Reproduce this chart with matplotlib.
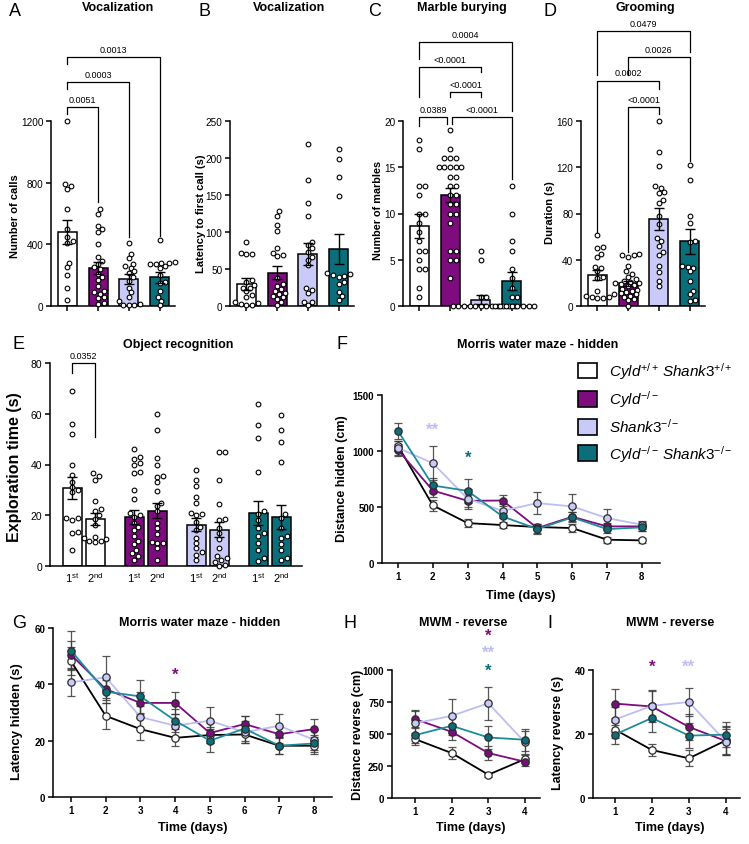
import numpy as np
import matplotlib
matplotlib.use('Agg')
import matplotlib.pyplot as plt
from matplotlib.patches import Patch

W, H = 749, 845
plt.rcParams['font.family'] = ['Liberation Sans', 'DejaVu Sans']
plt.rcParams['mathtext.fontset'] = 'custom'
plt.rcParams['mathtext.rm'] = 'Liberation Sans'
plt.rcParams['mathtext.it'] = 'Liberation Sans:italic'
plt.rcParams['mathtext.bf'] = 'Liberation Sans:bold'

# ---- data: bar panels (individual animals, mean, SEM) ----
a_vals = [[1200, 790, 780, 760, 630, 500, 450, 420, 410, 280, 250, 200, 120, 40],
          [630, 600, 520, 500, 480, 400, 320, 290, 270, 250, 240, 210, 190, 170, 130, 100, 90, 80, 60, 50, 20, 10],
          [410, 340, 310, 275, 260, 245, 225, 215, 185, 160, 120, 90, 60, 30, 10, 5, 5, 5],
          [430, 285, 280, 280, 275, 270, 260, 245, 200, 155, 150, 95, 60, 35, 5]]
a_mean = [480, 245, 175, 185]
a_sem = [80, 40, 35, 35]

b_vals = [[87, 72, 70, 70, 35, 32, 28, 25, 24, 20, 15, 12, 5, 4, 3, 2, 1],
          [128, 122, 110, 101, 78, 71, 69, 67, 38, 30, 27, 23, 20, 18, 16, 14, 12, 10, 6, 2],
          [219, 170, 139, 122, 87, 83, 78, 73, 66, 62, 55, 24, 22, 17, 5, 5, 1],
          [212, 199, 175, 149, 44, 43, 42, 41, 39, 32, 30, 19, 13, 8]]
b_mean = [30, 45, 70, 77]
b_sem = [8, 9, 15, 20]

c_vals = [[18, 17, 13, 13, 12, 10, 10, 9, 8, 7, 6, 6, 5, 4, 4, 2, 1],
          [19, 17, 16, 16, 16, 15, 15, 15, 15, 15, 14, 14, 13, 13, 12, 12, 11, 11, 10, 10, 9, 6, 6, 5, 5, 3],
          [6, 5, 1, 1, 0, 0, 0, 0, 0, 0, 0, 0, 0, 0, 0, 0],
          [13, 10, 7, 6, 4, 3, 2, 1, 1, 0, 0, 0, 0, 0, 0, 0, 0]]
c_mean = [8.6, 12.0, 0.7, 2.7]
c_sem = [1.3, 0.8, 0.45, 1.0]

d_vals = [[61, 51, 50, 45, 42, 34, 33, 30, 25, 24, 13, 10, 9, 8, 8, 7, 7],
          [45, 44, 44, 42, 35, 30, 28, 25, 23, 22, 21, 20, 20, 19, 18, 17, 15, 14, 13, 12, 11, 10, 9, 8, 6, 5, 0],
          [160, 133, 121, 104, 102, 99, 98, 92, 89, 78, 71, 59, 56, 52, 47, 44, 35, 29, 22, 17],
          [122, 109, 78, 72, 56, 55, 35, 34, 33, 30, 22, 13, 10, 5, 4]]
d_mean = [27, 19.5, 75, 56]
d_sem = [4.5, 2, 9.5, 11]

e_vals = [[69, 56, 52, 40, 36, 33, 31, 30, 29, 19, 19, 18, 13.5, 13, 6.5],
          [36.5, 35.5, 34, 25.5, 22.5, 21.5, 20, 18.5, 16, 11.5, 11, 10.5, 10, 10, 9.5],
          [46, 43, 42, 40.5, 40, 37, 36.5, 30, 26.5, 21, 20, 19.5, 17, 15.5, 14, 12, 10, 8.5, 6.5, 5, 4, 2.5],
          [60, 53.5, 42.5, 40, 35.5, 35, 33, 29.5, 25, 23.5, 21.5, 17, 15, 12.5, 9.5, 9, 9, 7, 2.5],
          [38, 34, 31.5, 27, 25, 21, 20.5, 20, 17.5, 15.5, 14, 11, 9, 7, 5.5, 4.5, 2.5],
          [45, 45, 34, 24.5, 18.5, 18, 15, 13, 10.5, 7, 4, 3, 2.5, 1.5, 0.5, 0],
          [64, 55.5, 50.5, 37, 21.5, 20.5, 18, 15, 13, 12, 9, 6.5, 3, 2],
          [59.5, 53.5, 49, 41, 20.5, 19, 15, 12, 11, 8.5, 6.5, 2.5, 3]]
e_mean = [30.6, 18.5, 19.3, 21.8, 16.3, 14.3, 20.8, 19.3]
e_sem = [4.3, 2.5, 2.8, 3.0, 2.5, 3.0, 4.8, 4.7]
e_labels = [r'1$^{\mathrm{st}}$', r'2$^{\mathrm{nd}}$'] * 4

# ---- data: line panels (mean, SEM per day) ----
days8 = [1, 2, 3, 4, 5, 6, 7, 8]
days4 = [1, 2, 3, 4]

f_mean = [[1045, 514, 356, 339, 321, 312, 208, 202],
          [1009, 647, 555, 558, 312, 413, 327, 327],
          [1027, 891, 573, 466, 535, 505, 401, 342],
          [1179, 692, 644, 416, 303, 407, 303, 318]]
f_sem = [[45, 50, 35, 30, 30, 35, 25, 25],
         [50, 60, 55, 45, 40, 40, 30, 40],
         [60, 150, 90, 60, 95, 110, 80, 35],
         [75, 65, 110, 60, 40, 45, 35, 35]]

g_mean = [[48.2, 28.8, 24.1, 21.0, 22.0, 22.2, 18.2, 18.2],
          [50.5, 38.3, 33.4, 33.4, 22.7, 25.9, 22.3, 24.1],
          [40.7, 42.5, 28.4, 25.3, 27.1, 23.0, 25.3, 20.3],
          [52.0, 37.4, 35.7, 27.1, 20.0, 24.3, 18.2, 19.0]]
g_sem = [[5, 4.5, 4, 3, 3, 3, 3, 3],
         [5, 4, 4, 3.8, 3.5, 3, 3, 3.5],
         [5, 7.5, 4, 4, 4.7, 4, 4.3, 3.5],
         [7, 4, 6, 4, 4, 4.5, 3, 3]]

h_mean = [[460, 351, 182, 304],
          [616, 517, 351, 283],
          [584, 642, 740, 434],
          [491, 564, 473, 455]]
h_sem = [[45, 50, 15, 30],
         [70, 60, 55, 30],
         [95, 135, 130, 90],
         [60, 75, 90, 85]]

i_mean = [[21.4, 15.0, 12.4, 18.0],
          [29.5, 28.6, 22.2, 17.8],
          [24.5, 28.8, 30.0, 17.6],
          [19.8, 25.0, 19.5, 19.8]]
i_sem = [[2.5, 2, 2.5, 4.5],
         [4.5, 5, 4, 4.5],
         [4, 4.5, 4.5, 4],
         [3, 4.5, 4, 4]]

legend_labels = [r'$\mathit{Cyld}^{+/+}\,\mathit{Shank3}^{+/+}$',
                 r'$\mathit{Cyld}^{-/-}$',
                 r'$\mathit{Shank3}^{-/-}$',
                 r'$\mathit{Cyld}^{-/-}\,\mathit{Shank3}^{-/-}$']

# p-value brackets: (x1, x2, top, end1, end2, label)
brackets_a = [(0, 1, 1291, 1245, 675, '0.0051'), (0, 2, 1453, 1407, 448, '0.0003'),
              (0, 3, 1615, 1570, 454, '0.0013')]
brackets_c = [(0, 3, 28.57, 26.7, 21.1, '0.0004'), (0, 2, 25.87, 22.6, 25.3, '<0.0001'),
              (1, 2, 23.17, 22.6, 22.6, '<0.0001'), (0, 0.9, 20.46, 19.46, 19.68, '0.0389'),
              (1.07, 3, 20.46, 19.68, 13.7, '<0.0001')]
brackets_d = [(1, 2, 172, 46.7, 166, '<0.0001'), (0, 2, 195, 64, 188, '0.0002'),
              (1, 3, 215, 200, 125, '0.0026'), (0, 3, 238, 200, 220, '0.0479')]
brackets_e = [(0, 1, 80, 76, 51, '0.0352')]

# significance stars: (text, day, y, group)
stars_f = [('**', 2, 1196, 2), ('*', 3, 946, 3)]
stars_g = [('*', 4, 43.7, 1)]
stars_h = [('*', 3, 1273, 1), ('**', 3, 1141, 2), ('*', 3, 1000, 3)]
stars_i = [('*', 2, 41.2, 1), ('**', 3, 41.2, 2)]

bar_colors = ['white', '#7E0C7E', '#CACAF8', '#0A6E7B']
line_colors = ['black', '#7E0C7E', '#BDBDF3', '#1C8D99']
marker_colors = ['white', '#7E0C7E', '#CACAF8', '#0A6E7B']

fig = plt.figure(figsize=(W / 100, H / 100), dpi=100)


def add_ax(left, top, right, bottom):
    ax = fig.add_axes([left / W, 1 - bottom / H, (right - left) / W, (bottom - top) / H])
    ax.patch.set_alpha(0)
    for s in ['top', 'right']:
        ax.spines[s].set_visible(False)
    for s in ['left', 'bottom']:
        ax.spines[s].set_linewidth(1.1)
    return ax


def ftext(x, y, s, **kw):
    fig.text(x / W, 1 - y / H, s, **kw)


def swarm(ax, x0, vals, d=4.7):
    pts = ax.transData.transform(np.column_stack([np.full(len(vals), x0, float), vals]))
    ypx = pts[:, 1]
    order = np.argsort(ypx)
    placed = []
    out = np.zeros(len(vals))
    step = d / 2.5
    for i in order:
        y = ypx[i]
        k = 0
        found = None
        while found is None:
            cands = [0.0] if k == 0 else [k * step, -k * step]
            for c in cands:
                if all((c - px) ** 2 + (y - py) ** 2 >= d * d for px, py in placed):
                    found = c
                    break
            k += 1
        placed.append((found, y))
        out[i] = found
    unit = ax.transData.transform([(1, 0)])[0, 0] - ax.transData.transform([(0, 0)])[0, 0]
    return x0 + out / unit


def bar_panel(ax, xs, groups, means, sems, colors, width, ylim, yticks):
    ax.set_ylim(ylim)
    ax.set_yticks(yticks)
    ax.bar(xs, means, width, color=colors, edgecolor='black', linewidth=1.1, zorder=2)
    for x, vals in zip(xs, groups):
        sx = swarm(ax, x, vals)
        ax.scatter(sx, vals, s=11.5, facecolor='white', edgecolor='black', linewidth=0.8,
                   zorder=3, clip_on=False)
    ax.errorbar(xs, means, yerr=sems, fmt='none', ecolor='black', elinewidth=1,
                capsize=3.5, capthick=1, zorder=4)


def brackets(ax, specs, xs):
    for x1, x2, top, e1, e2, lab in specs:
        ax.plot([x1, x1, x2, x2], [e1, top, top, e2], color='black', lw=0.9,
                clip_on=False, zorder=5)
        ax.annotate(lab, ((x1 + x2) / 2, top), xytext=(0, 2.2), textcoords='offset points',
                    ha='center', va='bottom', fontsize=6.5, annotation_clip=False)


def line_panel(ax, days, means, sems, stars, ylim, yticks):
    ax.set_ylim(ylim)
    ax.set_yticks(yticks)
    ax.set_xticks(days)
    for m, e in zip(means, sems):
        ax.errorbar(days, m, yerr=e, fmt='none', ecolor='#3a3a3a', elinewidth=0.9,
                    capsize=3, capthick=0.9, zorder=2, alpha=0.85)
    for m, lc, mc in zip(means, line_colors, marker_colors):
        ax.plot(days, m, color=lc, lw=1.3, marker='o', ms=5.3, mfc=mc, mec='#2b2b2b',
                mew=0.9, zorder=3, clip_on=False)
    for s, d, y, g in stars:
        ax.text(d, y, s, color=marker_colors[g] if g != 2 else line_colors[g],
                fontsize=12, fontweight='bold', ha='center', va='center', clip_on=False)
    ax.tick_params(width=1.1, length=3.5, labelsize=7, pad=2)
    for lab in ax.get_xticklabels() + ax.get_yticklabels():
        lab.set_fontweight('bold')


# ---- A-D: bar panels ----
bar_x = [0, 1, 2, 3]
panels = [
    (51, a_vals, a_mean, a_sem, (0, 1200), [0, 400, 800, 1200], brackets_a),
    (230, b_vals, b_mean, b_sem, (0, 250), [0, 50, 100, 150, 200, 250], None),
    (403, c_vals, c_mean, c_sem, (0, 20), [0, 5, 10, 15, 20], brackets_c),
    (581, d_vals, d_mean, d_sem, (0, 160), [0, 40, 80, 120, 160], brackets_d),
]
for left, vals, mean, sem, ylim, yt, br in panels:
    ax = add_ax(left, 122, left + 124, 307)
    ax.set_xlim(-0.53, 3.5)
    bar_panel(ax, bar_x, vals, mean, sem, bar_colors, 0.62, ylim, yt)
    ax.set_xticks(bar_x)
    ax.set_xticklabels([])
    ax.tick_params(width=1.1, length=3.5, labelsize=7.2, pad=2)
    if br:
        brackets(ax, br, bar_x)

# ---- E: object recognition ----
e_x = [g * 2.7 + k for g in range(4) for k in (0, 1)]
e_colors = [c for c in bar_colors for _ in (0, 1)]
ax = add_ax(50, 364, 302, 567)
ax.set_xlim(-0.96, 10.0)
bar_panel(ax, e_x, e_vals, e_mean, e_sem, e_colors, 0.83, (0, 80), [0, 20, 40, 60, 80])
ax.set_xticks(e_x)
ax.set_xticklabels(e_labels)
ax.tick_params(axis='x', length=0, labelsize=8, pad=3)
ax.tick_params(axis='y', width=1.1, length=3.5, labelsize=7.5, pad=2)
brackets(ax, brackets_e, e_x)

# ---- F-I: line panels ----
ax = add_ax(382, 396, 660, 564)
ax.set_xlim(0.54, 8.52)
line_panel(ax, days8, f_mean, f_sem, stars_f, (0, 1500), [0, 500, 1000, 1500])

ax = add_ax(53, 629, 332, 798)
ax.set_xlim(0.48, 8.52)
line_panel(ax, days8, g_mean, g_sem, stars_g, (0, 60), [0, 20, 40, 60])

ax = add_ax(392, 671, 540, 799)
ax.set_xlim(0.37, 4.41)
line_panel(ax, days4, h_mean, h_sem, stars_h, (0, 1000), [0, 250, 500, 750, 1000])

ax = add_ax(593, 671, 740, 799)
ax.set_xlim(0.41, 4.38)
line_panel(ax, days4, i_mean, i_sem, stars_i, (0, 40), [0, 20, 40])

# legend
handles = [Patch(facecolor=c, edgecolor='black', linewidth=1.2) for c in bar_colors]
fig.legend(handles, legend_labels, loc='upper left', bbox_to_anchor=(578 / W, 1 - 361 / H),
           frameon=False, fontsize=11, handlelength=1.25, handleheight=1.2,
           labelspacing=0.5, handletextpad=0.75, borderpad=0, borderaxespad=0)

# titles, axis labels, panel letters
titles = [(118, 8, 'Vocalization'), (289, 8, 'Vocalization'), (462, 8, 'Marble burying'),
          (645, 8, 'Grooming'), (178, 345, 'Object recognition'),
          (538, 345, 'Morris water maze - hidden'), (200, 623, 'Morris water maze - hidden'),
          (463, 623, 'MWM - reverse'), (670, 623, 'MWM - reverse')]
for x, y, t in titles:
    ftext(x, y, t, fontsize=9, fontweight='bold', ha='center', va='center')

ylabels = [(15, 216, 'Number of calls', 8), (201, 214, 'Latency to first call (s)', 8),
           (378, 210, 'Number of marbles', 7.8), (550, 213, 'Duration (s)', 8),
           (15, 467, 'Exploration time (s)', 11.5), (342, 479, 'Distance hidden (cm)', 9),
           (17, 722, 'Latency hidden (s)', 9.5), (358, 735, 'Distance reverse (cm)', 9),
           (558, 733, 'Latency reverse (s)', 9)]
for x, y, t, fs in ylabels:
    ftext(x, y, t, fontsize=fs, fontweight='bold', ha='center', va='center', rotation=90)

for x, y in [(521, 596), (193, 828), (471, 828), (670, 828)]:
    ftext(x, y, 'Time (days)', fontsize=9, fontweight='bold', ha='center', va='center')

letters = [(15, 11, 'A'), (205, 11, 'B'), (375, 11, 'C'), (550, 11, 'D'), (18, 345, 'E'),
           (342, 345, 'F'), (19, 624, 'G'), (350, 624, 'H'), (550, 624, 'I')]
for x, y, t in letters:
    ftext(x, y, t, fontsize=13, ha='center', va='center')

fig.savefig('out.png', dpi=100)
